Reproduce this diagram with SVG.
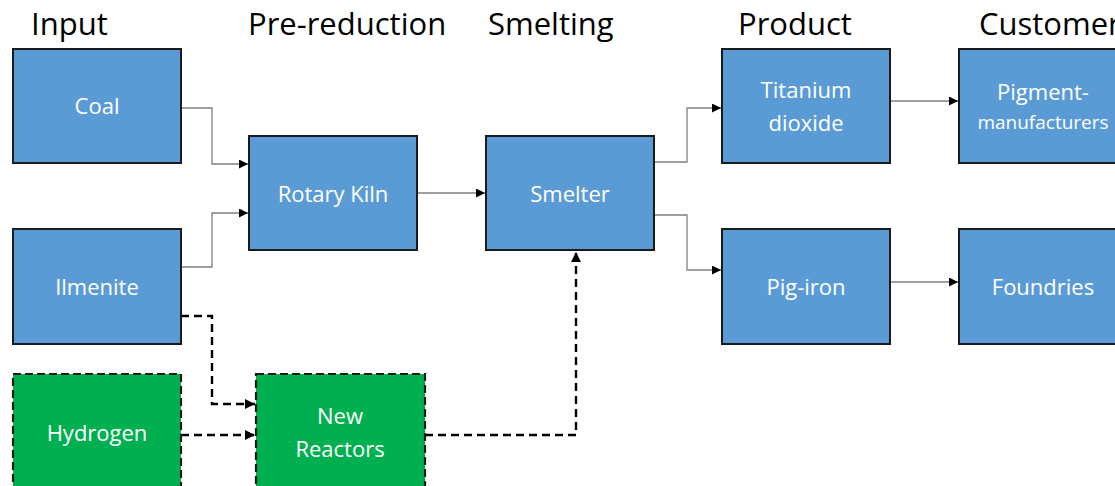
<svg xmlns="http://www.w3.org/2000/svg" width="1115" height="486" viewBox="0 0 1115 486">
<defs>
<style>
.hdr{font-family:"Open Sans","Liberation Sans",sans-serif;font-size:31px;fill:#000}
.box{fill:#5B9BD5;stroke:#1a1a1a;stroke-width:2}
.gbox{fill:#00B050;stroke:#1a1a1a;stroke-width:2.2;stroke-dasharray:8 4}
.lbl{font-family:"Open Sans","Liberation Sans",sans-serif;font-size:22px;fill:#fff;text-anchor:middle}
.sm{font-size:19px}
.ln{fill:none;stroke:#808080;stroke-width:1.3}
.dl{fill:none;stroke:#000;stroke-width:2.4;stroke-dasharray:8 5}
</style>
<marker id="ah" viewBox="0 0 10 10" refX="10" refY="5" markerWidth="9" markerHeight="9" markerUnits="userSpaceOnUse" orient="auto">
<path d="M0,0 L10,5 L0,10 z" fill="#000"/>
</marker>
<marker id="ahd" viewBox="0 0 10 10" refX="10" refY="5" markerWidth="10" markerHeight="10" markerUnits="userSpaceOnUse" orient="auto">
<path d="M0,0 L10,5 L0,10 z" fill="#000"/>
</marker>
</defs>
<rect width="1115" height="486" fill="#fff"/>
<g id="headers">
<text class="hdr" x="31" y="35">Input</text>
<text class="hdr" x="248" y="35">Pre-reduction</text>
<text class="hdr" x="488" y="35">Smelting</text>
<text class="hdr" x="738" y="35">Product</text>
<text class="hdr" x="979" y="35">Customers</text>
</g>
<g id="connectors">
<path class="ln" d="M181,108 H212 V164 H248" marker-end="url(#ah)"/>
<path class="ln" d="M181,267 H212 V213 H248" marker-end="url(#ah)"/>
<path class="ln" d="M417,193 H485" marker-end="url(#ah)"/>
<path class="ln" d="M654,162 H687 V108 H721" marker-end="url(#ah)"/>
<path class="ln" d="M654,215 H687 V270 H721" marker-end="url(#ah)"/>
<path class="ln" d="M890,101 H958" marker-end="url(#ah)"/>
<path class="ln" d="M890,282 H958" marker-end="url(#ah)"/>
<path class="dl" d="M181,316 H212 V404 H255" marker-end="url(#ahd)"/>
<path class="dl" d="M181,435 H255" marker-end="url(#ahd)"/>
<path class="dl" d="M425,435 H576 V252" marker-end="url(#ahd)"/>
</g>
<g id="coal"><rect class="box" x="13" y="49" width="168" height="114"/><text class="lbl" x="97" y="114">Coal</text></g>
<g id="ilmenite"><rect class="box" x="13" y="229" width="168" height="115"/><text class="lbl" x="97" y="295">Ilmenite</text></g>
<g id="hydrogen"><rect class="gbox" x="13" y="374" width="168" height="120"/><text class="lbl" x="97" y="441">Hydrogen</text></g>
<g id="rotary-kiln"><rect class="box" x="249" y="136" width="168" height="114"/><text class="lbl" x="333" y="202">Rotary Kiln</text></g>
<g id="new-reactors"><rect class="gbox" x="256" y="374" width="169" height="120"/><text class="lbl" x="340" y="424">New</text><text class="lbl" x="340" y="457">Reactors</text></g>
<g id="smelter"><rect class="box" x="486" y="136" width="168" height="114"/><text class="lbl" x="570" y="202">Smelter</text></g>
<g id="titanium-dioxide"><rect class="box" x="722" y="49" width="168" height="114"/><text class="lbl" x="806" y="98">Titanium</text><text class="lbl" x="806" y="131">dioxide</text></g>
<g id="pig-iron"><rect class="box" x="722" y="229" width="168" height="115"/><text class="lbl" x="806" y="295">Pig-iron</text></g>
<g id="pigment-manufacturers"><rect class="box" x="959" y="49" width="170" height="114"/><text class="lbl" x="1043" y="100">Pigment-</text><text class="lbl sm" x="1043" y="129">manufacturers</text></g>
<g id="foundries"><rect class="box" x="959" y="229" width="170" height="115"/><text class="lbl" x="1043" y="295">Foundries</text></g>
</svg>
